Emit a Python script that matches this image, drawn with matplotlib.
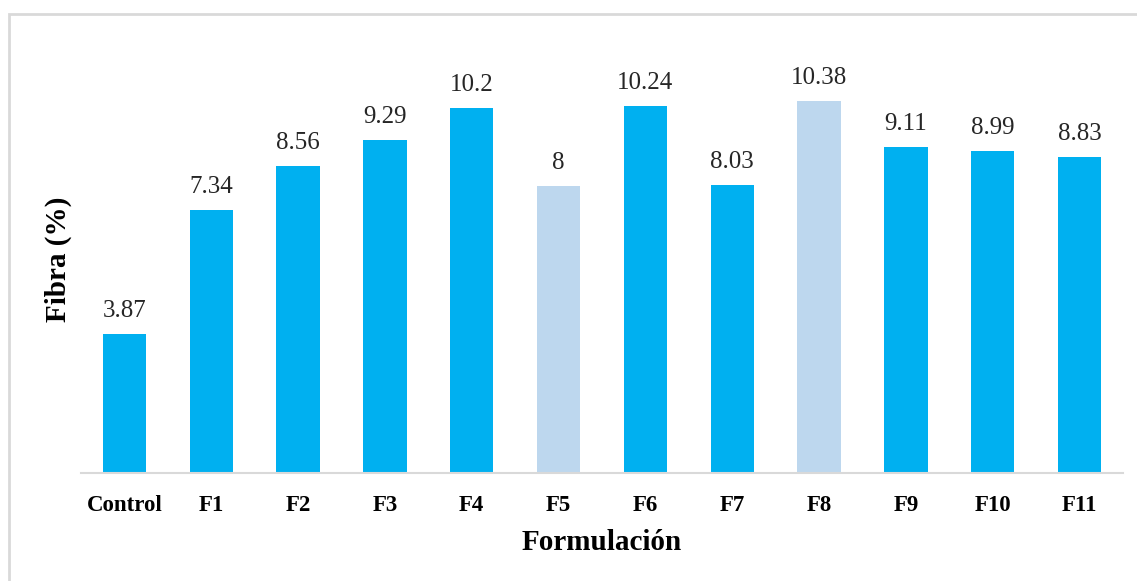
import matplotlib
matplotlib.use("Agg")
import matplotlib.pyplot as plt
from matplotlib.patches import Rectangle

categories = ["Control", "F1", "F2", "F3", "F4", "F5", "F6", "F7", "F8", "F9", "F10", "F11"]
values = [3.87, 7.34, 8.56, 9.29, 10.2, 8, 10.24, 8.03, 10.38, 9.11, 8.99, 8.83]
value_labels = ["3.87", "7.34", "8.56", "9.29", "10.2", "8", "10.24", "8.03", "10.38", "9.11", "8.99", "8.83"]
highlight = ["F5", "F8"]

plt.rcParams['font.family'] = ['Liberation Serif', 'DejaVu Serif']

fig = plt.figure(figsize=(11.37, 5.81), dpi=100)
ax = fig.add_axes([81/1137, 1 - 473/581, (1123 - 81)/1137, (473 - 43)/581])

colors = ["#BDD7EE" if c in highlight else "#00B0F0" for c in categories]
x = list(range(len(categories)))
bars = ax.bar(x, values, width=0.5, color=colors)

for xi, v, lab in zip(x, values, value_labels):
    ax.annotate(lab, (xi, v), xytext=(0, 12.2), textcoords="offset points",
                ha="center", va="baseline", fontsize=18, color="#262626")

ax.set_xlim(-0.5, len(categories) - 0.5)
ax.set_ylim(0, 12)
ax.set_xticks(x)
ax.set_xticklabels(categories, fontsize=16.5, fontweight="bold")
ax.tick_params(axis="x", length=0, pad=16)
ax.set_yticks([])
for s in ["top", "right", "left"]:
    ax.spines[s].set_visible(False)
ax.spines["bottom"].set_color("#D9D9D9")
ax.spines["bottom"].set_linewidth(1.5)

fig.text(602/1137, 1 - 542/581, "Formulación", ha="center", va="center",
         fontsize=21, fontweight="bold")
fig.text(58/1137, 1 - 259/581, "Fibra (%)", ha="center", va="center",
         fontsize=21, fontweight="bold", rotation=90)

# outer frame: only top and left edges fall inside the image
fig.patches.append(Rectangle((9/1137, -0.05), 1.2, 1.05 - 13.5/581,
                             transform=fig.transFigure, fill=False,
                             edgecolor="#D9D9D9", linewidth=2))

fig.savefig("out.png", dpi=100)
